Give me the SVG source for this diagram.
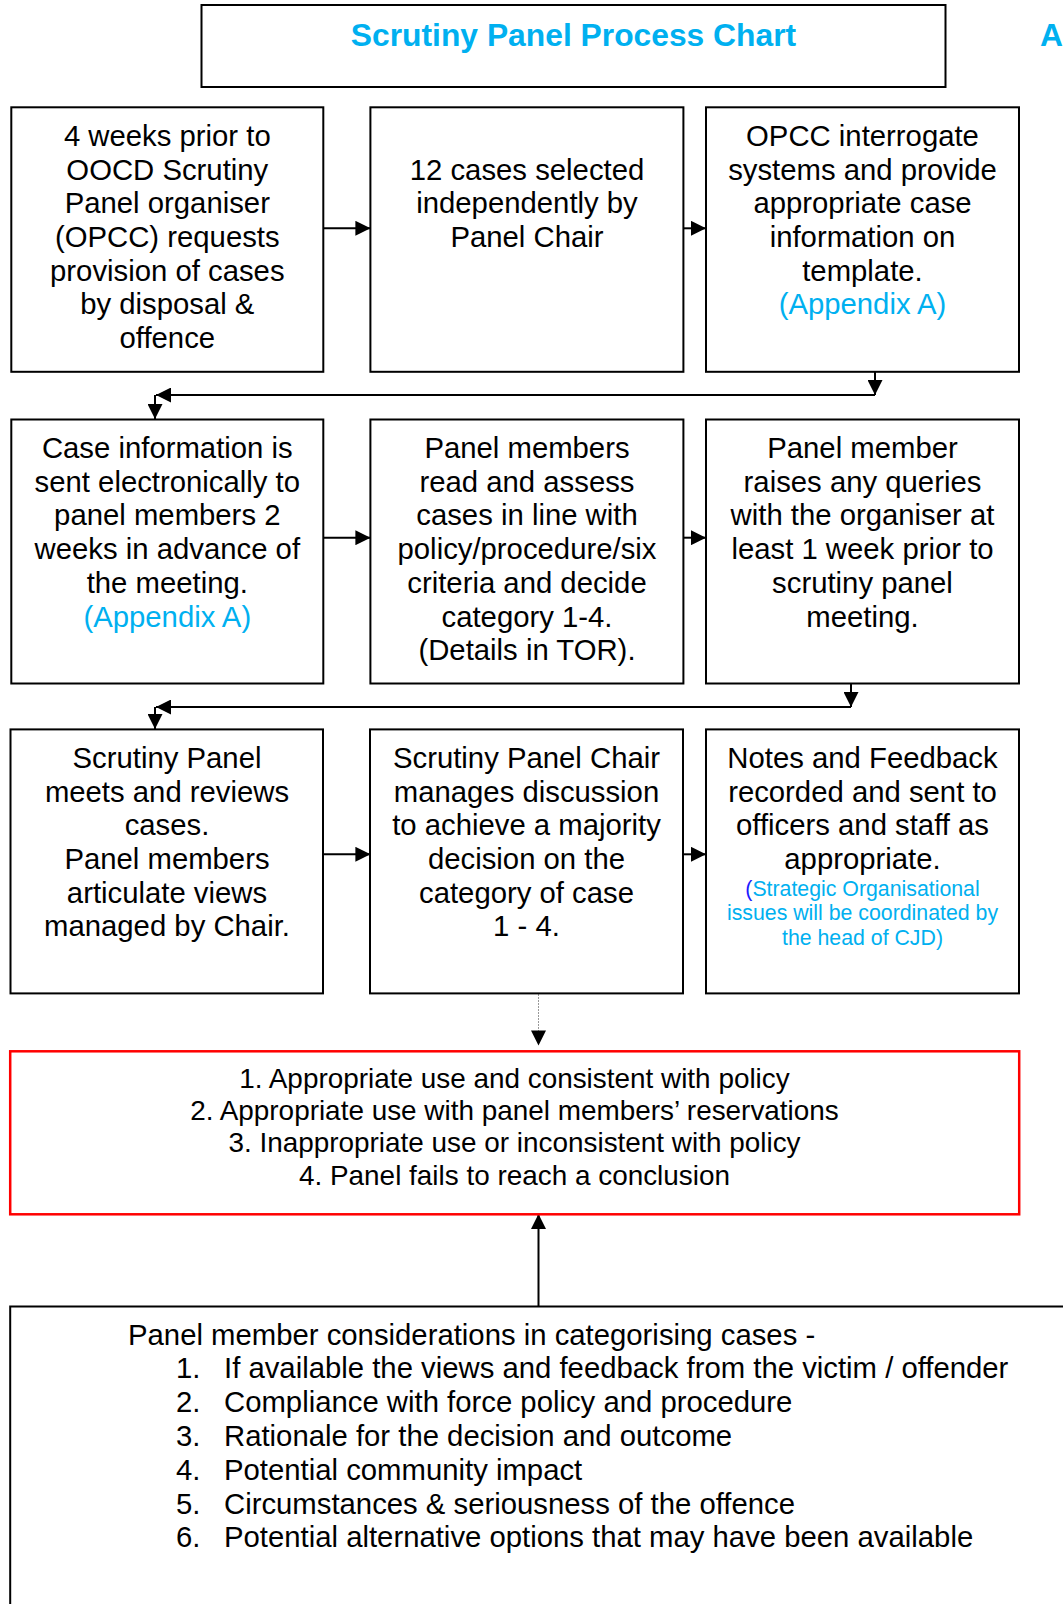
<svg xmlns="http://www.w3.org/2000/svg" width="1063" height="1604" viewBox="0 0 1063 1604">
<defs>
<style>
.box{fill:#fff;stroke:#000;stroke-width:2}
.red{fill:#fff;stroke:#ff0000;stroke-width:2.5}
.t{font-family:"Liberation Sans",Arial,sans-serif;font-size:29.3px;fill:#000;text-anchor:middle}
.l{font-family:"Liberation Sans",Arial,sans-serif;font-size:29.3px;fill:#000}
.r{font-family:"Liberation Sans",Arial,sans-serif;font-size:27.9px;fill:#000;text-anchor:middle}
.s{font-family:"Liberation Sans",Arial,sans-serif;font-size:21.3px;fill:#00B0F0;text-anchor:middle}
.blue{fill:#00B0F0}
.ttl{font-family:"Liberation Sans",Arial,sans-serif;font-size:31.8px;font-weight:bold;fill:#00B0F0}
.c{fill:none;stroke:#000;stroke-width:2}
.d{fill:none;stroke:#999;stroke-width:1;stroke-dasharray:2 1}
</style>
<marker id="ah" markerUnits="userSpaceOnUse" markerWidth="15" markerHeight="15" refX="15" refY="7.5" orient="auto" viewBox="0 0 15 15">
<path d="M0,0 L15,7.5 L0,15 z" fill="#000"/>
</marker>
</defs>
<rect width="1063" height="1604" fill="#fff"/>

<g id="title">
<rect class="box" x="201.5" y="5" width="744" height="82"/>
<text class="ttl" x="573.5" y="45.7" text-anchor="middle">Scrutiny Panel Process Chart</text>
</g>
<g id="appendix-label">
<text class="ttl" x="1040" y="45.7">A</text>
</g>

<g id="connectors">
<line class="c" x1="323.3" y1="228.3" x2="370.4" y2="228.3" marker-end="url(#ah)"/>
<line class="c" x1="683.4" y1="228.3" x2="706" y2="228.3" marker-end="url(#ah)"/>
<line class="c" x1="875" y1="372" x2="875" y2="395" marker-end="url(#ah)"/>
<line class="c" x1="875" y1="395" x2="156" y2="395" marker-end="url(#ah)"/>
<line class="c" x1="155" y1="395" x2="155" y2="419" marker-end="url(#ah)"/>
<line class="c" x1="323.3" y1="537.7" x2="370.4" y2="537.7" marker-end="url(#ah)"/>
<line class="c" x1="683.4" y1="537.7" x2="706" y2="537.7" marker-end="url(#ah)"/>
<line class="c" x1="851" y1="683.5" x2="851" y2="707" marker-end="url(#ah)"/>
<line class="c" x1="851" y1="707" x2="156" y2="707" marker-end="url(#ah)"/>
<line class="c" x1="155" y1="707" x2="155" y2="729" marker-end="url(#ah)"/>
<line class="c" x1="323.3" y1="854.3" x2="370.4" y2="854.3" marker-end="url(#ah)"/>
<line class="c" x1="683.4" y1="854.3" x2="706" y2="854.3" marker-end="url(#ah)"/>
<line class="d" x1="538.5" y1="994" x2="538.5" y2="1031"/>
<path d="M531,1030.5 L546,1030.5 L538.5,1045.5 z" fill="#000"/>
<line class="c" x1="538.5" y1="1306.5" x2="538.5" y2="1214" stroke-width="1.5" marker-end="url(#ah)"/>
</g>

<g id="n1">
<rect class="box" x="11.3" y="107.3" width="312" height="264.5"/>
<text class="t" x="167.3" y="145.8">4 weeks prior to</text>
<text class="t" x="167.3" y="179.5">OOCD Scrutiny</text>
<text class="t" x="167.3" y="213.2">Panel organiser</text>
<text class="t" x="167.3" y="246.9">(OPCC) requests</text>
<text class="t" x="167.3" y="280.6">provision of cases</text>
<text class="t" x="167.3" y="314.3">by disposal &amp;</text>
<text class="t" x="167.3" y="348">offence</text>
</g>
<g id="n2">
<rect class="box" x="370.4" y="107.3" width="313" height="264.5"/>
<text class="t" x="527" y="179.5">12 cases selected</text>
<text class="t" x="527" y="213.2">independently by</text>
<text class="t" x="527" y="246.9">Panel Chair</text>
</g>
<g id="n3">
<rect class="box" x="706" y="107.3" width="313" height="264.5"/>
<text class="t" x="862.5" y="145.8">OPCC interrogate</text>
<text class="t" x="862.5" y="179.5">systems and provide</text>
<text class="t" x="862.5" y="213.2">appropriate case</text>
<text class="t" x="862.5" y="246.9">information on</text>
<text class="t" x="862.5" y="280.6">template.</text>
<text class="t blue" x="862.5" y="314.3">(Appendix A)</text>
</g>

<g id="n4">
<rect class="box" x="11.3" y="419.5" width="312" height="264"/>
<text class="t" x="167.3" y="458">Case information is</text>
<text class="t" x="167.3" y="491.7">sent electronically to</text>
<text class="t" x="167.3" y="525.4">panel members 2</text>
<text class="t" x="167.3" y="559.1">weeks in advance of</text>
<text class="t" x="167.3" y="592.8">the meeting.</text>
<text class="t blue" x="167.3" y="626.5">(Appendix A)</text>
</g>
<g id="n5">
<rect class="box" x="370.4" y="419.5" width="313" height="264"/>
<text class="t" x="527" y="458">Panel members</text>
<text class="t" x="527" y="491.7">read and assess</text>
<text class="t" x="527" y="525.4">cases in line with</text>
<text class="t" x="527" y="559.1">policy/procedure/six</text>
<text class="t" x="527" y="592.8">criteria and decide</text>
<text class="t" x="527" y="626.5">category 1-4.</text>
<text class="t" x="527" y="660.2">(Details in TOR).</text>
</g>
<g id="n6">
<rect class="box" x="706" y="419.5" width="313" height="264"/>
<text class="t" x="862.5" y="458">Panel member</text>
<text class="t" x="862.5" y="491.7">raises any queries</text>
<text class="t" x="862.5" y="525.4">with the organiser at</text>
<text class="t" x="862.5" y="559.1">least 1 week prior to</text>
<text class="t" x="862.5" y="592.8">scrutiny panel</text>
<text class="t" x="862.5" y="626.5">meeting.</text>
</g>

<g id="n7">
<rect class="box" x="10.5" y="729.4" width="312.5" height="264"/>
<text class="t" x="167" y="767.9">Scrutiny Panel</text>
<text class="t" x="167" y="801.6">meets and reviews</text>
<text class="t" x="167" y="835.3">cases.</text>
<text class="t" x="167" y="869">Panel members</text>
<text class="t" x="167" y="902.7">articulate views</text>
<text class="t" x="167" y="936.4">managed by Chair.</text>
</g>
<g id="n8">
<rect class="box" x="370" y="729.4" width="313" height="264"/>
<text class="t" x="526.5" y="767.9">Scrutiny Panel Chair</text>
<text class="t" x="526.5" y="801.6">manages discussion</text>
<text class="t" x="526.5" y="835.3">to achieve a majority</text>
<text class="t" x="526.5" y="869">decision on the</text>
<text class="t" x="526.5" y="902.7">category of case</text>
<text class="t" x="526.5" y="936.4">1 - 4.</text>
</g>
<g id="n9">
<rect class="box" x="706" y="729.4" width="313" height="264"/>
<text class="t" x="862.5" y="767.9">Notes and Feedback</text>
<text class="t" x="862.5" y="801.6">recorded and sent to</text>
<text class="t" x="862.5" y="835.3">officers and staff as</text>
<text class="t" x="862.5" y="869">appropriate.</text>
<text class="s" x="862.5" y="895.5"><tspan fill="#1a1aff">(</tspan>Strategic Organisational</text>
<text class="s" x="862.5" y="920">issues will be coordinated by</text>
<text class="s" x="862.5" y="944.5">the head of CJD)</text>
</g>

<g id="outcomes">
<rect class="red" x="10.2" y="1051.3" width="1009" height="163"/>
<text class="r" x="514.5" y="1087.5">1. Appropriate use and consistent with policy</text>
<text class="r" x="514.5" y="1119.9">2. Appropriate use with panel members’ reservations</text>
<text class="r" x="514.5" y="1152.3">3. Inappropriate use or inconsistent with policy</text>
<text class="r" x="514.5" y="1184.7">4. Panel fails to reach a conclusion</text>
</g>

<g id="considerations">
<rect class="box" x="10.2" y="1306.5" width="1100" height="400"/>
<text class="l" x="128" y="1344.5">Panel member considerations in categorising cases -</text>
<text class="l" x="176" y="1378.3">1.</text><text class="l" x="224" y="1378.3">If available the views and feedback from the victim / offender</text>
<text class="l" x="176" y="1412.1">2.</text><text class="l" x="224" y="1412.1">Compliance with force policy and procedure</text>
<text class="l" x="176" y="1445.9">3.</text><text class="l" x="224" y="1445.9">Rationale for the decision and outcome</text>
<text class="l" x="176" y="1479.7">4.</text><text class="l" x="224" y="1479.7">Potential community impact</text>
<text class="l" x="176" y="1513.5">5.</text><text class="l" x="224" y="1513.5">Circumstances &amp; seriousness of the offence</text>
<text class="l" x="176" y="1547.3">6.</text><text class="l" x="224" y="1547.3">Potential alternative options that may have been available</text>
</g>
</svg>
